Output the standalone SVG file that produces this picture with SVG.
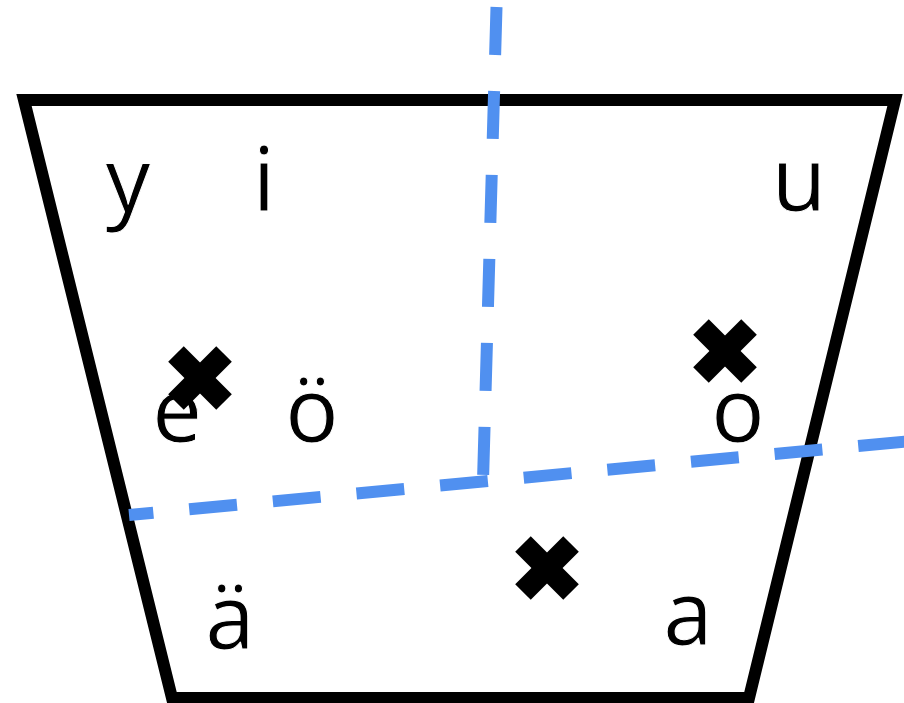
<svg xmlns="http://www.w3.org/2000/svg" width="904" height="703" viewBox="0 0 904 703">
<style>
.lbl{font-family:"Noto Sans","Open Sans",sans-serif;font-weight:400;font-size:89px;fill:#000;stroke:#fff;stroke-width:1;text-anchor:middle}
.axis{fill:none;stroke:#5090F0;stroke-width:12;stroke-dasharray:48 36}
.x{fill:#000}
</style>
<defs>
<g id="cross">
<rect x="-34" y="-11" width="68" height="22" transform="rotate(45)"/>
<rect x="-34" y="-11" width="68" height="22" transform="rotate(-45)"/>
</g>
</defs>
<rect width="904" height="703" fill="#fff"/>
<g id="trapezoid">
<polygon points="24,100 895,100 749,698 172,698" fill="none" stroke="#000" stroke-width="12" stroke-linejoin="miter"/>
</g>
<g id="labels">
<text id="y" class="lbl" x="128" y="211">y</text>
<text id="i" class="lbl" x="264" y="211">i</text>
<text id="u" class="lbl" x="799" y="211">u</text>
<text id="e" class="lbl" x="177" y="442">e</text>
<text id="oe" class="lbl" x="312" y="442">ö</text>
<text id="o" class="lbl" x="738" y="442">o</text>
<text id="ae" class="lbl" x="230" y="649">ä</text>
<text id="a" class="lbl" x="688" y="645">a</text>
</g>
<g id="crosses" class="x">
<use href="#cross" x="200" y="378"/>
<use href="#cross" x="725" y="351"/>
<use href="#cross" x="547" y="568"/>
</g>
<g id="connectors">
<line class="axis" x1="496.5" y1="7" x2="483" y2="481"/>
<line class="axis" x1="906" y1="441.5" x2="129" y2="515"/>
</g>
</svg>
